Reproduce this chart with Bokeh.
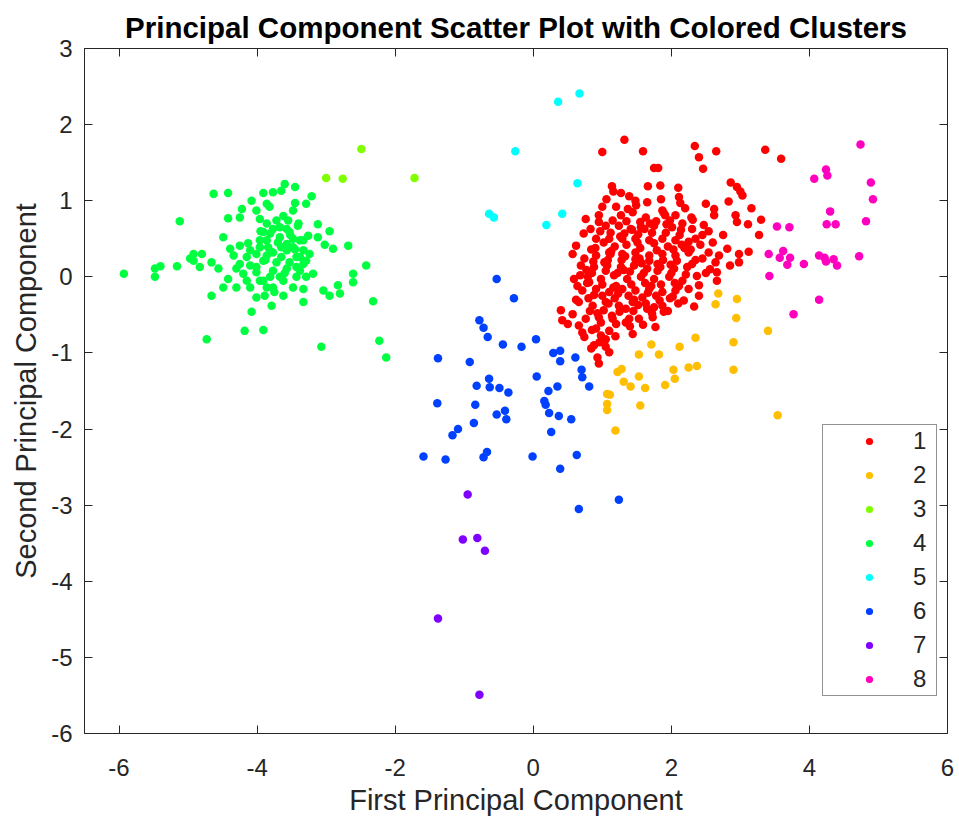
from bokeh.plotting import figure
from bokeh.models import FixedTicker, LinearAxis, Range1d
from bokeh.embed import file_html
from bokeh.resources import INLINE

# ---------------- data ----------------
cluster_names = ["1", "2", "3", "4", "5", "6", "7", "8"]
cluster_colors = ["#FF0000", "#FFBF00", "#80FF00", "#00FF40",
                  "#00FFFF", "#0040FF", "#8000FF", "#FF00BF"]

c1_x = [1.32, 1.00, 1.59, 2.34, 2.40, 2.65, 2.46, 3.36, 3.59, 1.75, 1.81, 1.14, 1.16, 1.66, 1.84, 2.10, 1.39, 1.48,
        2.11, 2.13, 2.86, 2.95, 3.03, 2.83, 2.50, 2.62, 3.16, 3.30, 2.93, 2.95, 3.11, 3.27, 2.62, 2.47, 2.54, 2.29,
        1.00, 0.95, 0.76, 1.20, 1.27, 1.44, 1.63, 1.87, 1.91, 2.06, 2.16, 0.83, 1.05, 1.24, 1.41, 1.56, 1.75, 2.01,
        2.30, 0.91, 1.10, 1.29, 1.48, 1.68, 1.87, 2.06, 2.25, 2.35, 2.81, 3.12, 2.98, 0.57, 0.74, 0.91, 1.10, 1.29,
        1.48, 1.68, 1.87, 2.06, 2.25, 2.54, 2.69, 2.45, 2.64, 2.98, 0.69, 0.88, 1.07, 1.27, 1.46, 1.65, 1.84, 2.04,
        2.23, 2.30, 2.66, 2.37, 2.66, 0.79, 0.98, 1.17, 1.36, 1.56, 1.75, 1.97, 2.16, 0.71, 0.91, 1.10, 1.29, 1.48,
        1.68, 1.87, 2.06, 2.25, 2.40, 2.18, 2.33, 0.66, 0.86, 1.05, 1.24, 1.44, 1.63, 1.87, 1.89, 0.40, 0.57, 0.42,
        0.76, 0.95, 1.15, 1.34, 1.53, 1.73, 0.66, 0.91, 1.10, 1.44, 0.74, 0.98, 0.88, 1.05, 1.10, 0.95, 0.93, 3.00,
        0.50, 0.84, 0.62,
        1.02, 1.18, 1.35, 1.55, 1.75, 1.95, 2.15, 0.85, 1.05, 1.22, 1.40, 1.60, 1.80, 2.00, 0.78, 1.00, 1.20, 1.42,
        1.62, 1.85, 2.05, 0.80, 1.00, 1.18, 1.38, 1.58, 1.78, 1.98, 0.82, 1.02, 1.25, 1.45, 1.65, 0.90, 1.12, 1.32,
        1.52, 1.72, 1.92, 2.12, 0.95, 1.15, 1.35, 1.55, 1.78, 1.98, 1.08, 1.28, 1.48, 1.68, 1.88, 2.08, 2.35, 0.98,
        1.20, 1.40, 0.85, 1.05, 2.20, 1.65, 1.85, 2.45, 2.60, 2.75, 2.85, 2.50, 2.40, 2.10, 1.75, 1.95,
        0.62, 0.73, 0.84, 0.97, 1.13, 1.26, 1.37, 1.51, 1.61, 1.79, 1.93, 2.19, 0.68, 0.81, 1.03, 1.16, 1.31, 1.57,
        1.71, 1.99, 2.21, 0.88, 1.09, 1.23, 1.46, 1.66, 1.83, 2.11, 0.64, 0.77, 0.93, 1.14, 1.34, 1.52, 1.72, 2.02,
        0.71, 0.96, 1.19, 1.39, 1.59, 1.77, 2.28, 2.42, 2.56, 1.06, 1.27, 1.49, 0.59, 1.43, 1.69, 1.89, 2.14, 2.31,
        0.87, 1.12, 1.33, 1.54, 1.80, 2.03]
c1_y = [1.80, 1.64, 1.65, 1.72, 1.57, 1.65, 1.42, 1.67, 1.55, 1.43, 1.43, 1.19, 1.12, 1.19, 1.20, 1.17, 1.06, 1.00,
        1.05, 0.97, 1.24, 1.18, 1.07, 0.99, 0.96, 0.89, 0.90, 0.75, 0.81, 0.72, 0.69, 0.55, 0.81, 0.68, 0.60, 0.78,
        0.92, 0.81, 0.76, 0.92, 0.81, 0.85, 0.78, 0.87, 0.81, 0.81, 0.70, 0.63, 0.67, 0.67, 0.63, 0.65, 0.67, 0.65,
        0.63, 0.50, 0.50, 0.50, 0.50, 0.48, 0.50, 0.48, 0.46, 0.50, 0.37, 0.33, 0.30, 0.30, 0.24, 0.28, 0.32, 0.30,
        0.32, 0.28, 0.30, 0.28, 0.32, 0.32, 0.28, 0.24, 0.19, 0.19, 0.15, 0.13, 0.15, 0.13, 0.15, 0.11, 0.13, 0.11,
        0.13, 0.17, 0.06, 0.01, -0.05, 0.00, -0.03, 0.02, -0.03, 0.00, -0.03, 0.00, -0.05, -0.18, -0.16, -0.20, -0.16, -0.18,
        -0.16, -0.20, -0.18, -0.16, -0.11, -0.31, -0.39, -0.33, -0.38, -0.33, -0.38, -0.33, -0.35, -0.38, -0.46, -0.44, -0.49, -0.57,
        -0.55, -0.53, -0.55, -0.60, -0.55, -0.53, -0.64, -0.68, -0.71, -0.75, -0.79, -0.77, -0.90, -0.92, -0.99, -1.14, -1.06, 1.12,
        -0.62, -0.94, -0.30,
        0.45, 0.40, 0.42, 0.38, 0.44, 0.40, 0.42, 0.05, 0.08, 0.05, 0.07, 0.05, 0.08, 0.05, -0.08, -0.10, -0.12, -0.10,
        -0.08, -0.10, -0.08, -0.28, -0.25, -0.28, -0.25, -0.27, -0.25, -0.28, -0.45, -0.44, -0.46, -0.45, -0.42, 0.38, 0.58, 0.57,
        0.56, 0.58, 0.58, 0.55, 0.72, 0.74, 0.73, 0.72, 0.73, 0.74, 0.22, 0.22, 0.23, 0.21, 0.22, 0.21, 0.22, -0.60,
        -0.62, -0.65, -0.70, -0.82, 0.90, 0.98, 1.02, 0.55, 0.45, 0.55, 0.15, 0.05, -0.25, -0.35, -0.40, -0.45,
        0.41, 0.57, 0.36, 0.60, 0.34, 0.53, 0.89, 0.45, 0.63, 0.35, 0.69, 0.38, 0.02, -0.07, 0.19, -0.14, 0.09, 0.18,
        -0.12, 0.16, 0.03, -0.24, -0.35, -0.22, -0.30, -0.21, -0.31, -0.12, -0.12, 0.09, -0.48, -0.51, -0.42, -0.37, -0.48, -0.26,
        -0.73, -0.86, -0.78, -0.55, -0.63, -0.66, 0.36, 0.42, 0.10, 1.02, 1.10, 0.94, -0.03, 0.62, 0.70, 0.84, 0.62, 0.75,
        0.20, 0.30, 0.27, 0.24, 0.17, 0.36]

c2_x = [2.68, 2.64, 2.95, 2.94, 3.40, 2.35, 2.90, 1.71, 2.12, 1.53, 1.82, 2.37, 2.25, 2.90, 2.03, 2.05, 1.28, 1.22,
        1.53, 1.31, 1.41, 1.62, 1.91, 1.07, 1.11, 1.07, 1.07, 1.55, 3.54, 1.19]
c2_y = [-0.22, -0.36, -0.29, -0.54, -0.71, -0.80, -0.86, -0.89, -0.92, -1.02, -1.02, -1.17, -1.19, -1.22, -1.22, -1.34,
        -1.21, -1.25, -1.31, -1.38, -1.44, -1.46, -1.42, -1.54, -1.55, -1.67, -1.75, -1.69, -1.82, -2.02]

c3_x = [-2.49, -3.00, -2.76, -1.72]
c3_y = [1.68, 1.30, 1.29, 1.30]

c4_x = [-3.60, -3.45, -4.63, -4.42, -3.91, -3.77, -3.65, -3.21, -4.08, -3.86, -3.45, -3.29, -4.22, -4.01, -3.82, -3.48,
        -4.25, -4.42, -3.96, -3.72, -3.55, -5.12, -3.12, -3.41, -3.77, -3.57, -3.91, -2.95, -3.26, -3.12, -4.49, -3.67,
        -3.48, -3.38, -3.86, -4.13, -4.25, -4.39, -3.02, -2.68, -2.90, -4.92, -4.80, -4.97, -4.34, -4.01, -3.77, -3.57,
        -3.33, -3.24, -4.92, -4.66, -4.56, -4.83, -5.40, -5.48, -5.16, -5.48, -5.93, -4.25, -4.10, -3.91, -3.72, -3.53,
        -3.33, -2.42, -4.30, -4.01, -3.77, -3.57, -3.38, -3.19, -2.61, -2.61, -4.42, -4.15, -3.91, -3.67, -3.43, -3.29,
        -4.30, -4.49, -4.10, -3.77, -3.48, -3.33, -3.04, -2.83, -2.80, -2.95, -4.66, -4.01, -3.89, -3.62, -3.79, -3.33,
        -2.32, -4.08, -4.18, -3.91, -4.73, -3.07, -2.23, -2.13,
        -3.86, -3.67, -3.84, -3.65, -3.48, -3.96, -3.86, -3.65, -3.43, -4.01, -3.81, -3.62, -3.43, -4.15, -3.96, -3.57,
        -3.33, -3.81, -3.53, -4.10, -3.38, -3.29, -4.20, -3.86, -3.96,
        -3.70, -3.52, -3.88, -3.60, -3.45, -3.75, -3.95, -3.62, -3.40, -3.80]
c4_y = [1.22, 1.18, 1.09, 1.10, 1.10, 1.11, 1.13, 1.06, 1.00, 0.96, 0.97, 0.96, 0.89, 0.87, 0.92, 0.87,
        0.78, 0.77, 0.76, 0.74, 0.74, 0.73, 0.69, 0.67, 0.63, 0.63, 0.59, 0.60, 0.54, 0.52, 0.52, 0.52,
        0.50, 0.48, 0.48, 0.44, 0.41, 0.37, 0.42, 0.41, 0.37, 0.30, 0.30, 0.24, 0.28, 0.30, 0.32, 0.35,
        0.35, 0.30, 0.21, 0.19, 0.11, 0.13, 0.14, 0.11, 0.14, 0.00, 0.04, 0.17, 0.15, 0.21, 0.19, 0.19,
        0.17, 0.15, 0.11, 0.06, 0.08, 0.11, 0.08, 0.04, 0.04, -0.07, -0.03, -0.05, -0.05, 0.00, 0.00, 0.00,
        -0.14, -0.14, -0.14, -0.14, -0.14, -0.16, -0.18, -0.11, -0.22, -0.25, -0.25, -0.27, -0.25, -0.25, -0.38, -0.33,
        -0.32, -0.46, -0.71, -0.70, -0.82, -0.92, -0.84, -1.06,
        0.70, 0.65, 0.39, 0.39, 0.39, 0.39, 0.28, 0.26, 0.26, 0.13, 0.00, -0.05, 0.13, 0.26, 0.48, 0.43,
        0.48, 0.57, 0.59, 0.35, 0.26, 0.21, 0.04, -0.14, -0.05,
        0.45, 0.55, 0.22, 0.05, 0.36, -0.20, 0.60, 0.80, 0.70, 0.33]

c5_x = [0.67, 0.36, -0.26, 0.64, -0.64, -0.57, 0.42, 0.19]
c5_y = [2.41, 2.30, 1.65, 1.23, 0.83, 0.78, 0.83, 0.68]

c6_x = [-0.53, -0.28, -0.78, -0.72, -0.66, -0.44, -0.17, 0.04, 0.29, 0.39, 0.39, 0.61, 0.70, 0.71, 0.81, -1.38,
        -0.92, -0.64, -0.82, -0.63, -0.49, -0.36, 0.05, 0.22, 0.35, 0.16, 0.18, -1.39, -0.84, -0.53, -0.41, -0.39,
        0.23, 0.37, 0.55, -0.86, -1.09, -1.17, 0.26, -1.59, -1.27, -0.72, -0.67, -0.01, 0.63, 0.39, 0.66, 1.24]
c6_y = [-0.03, -0.28, -0.57, -0.67, -0.79, -0.89, -0.92, -0.82, -1.00, -0.97, -1.11, -1.06, -1.22, -1.32, -1.44, -1.07,
        -1.12, -1.34, -1.43, -1.45, -1.46, -1.52, -1.31, -1.50, -1.44, -1.63, -1.68, -1.66, -1.68, -1.81, -1.76, -1.87,
        -1.79, -1.83, -1.87, -1.92, -2.00, -2.08, -2.04, -2.36, -2.40, -2.37, -2.30, -2.36, -2.34, -2.52, -3.05, -2.93]

c7_x = [-0.95, -1.02, -0.81, -0.70, -1.38, -0.78]
c7_y = [-2.86, -3.45, -3.43, -3.60, -4.49, -5.49]

c8_x = [4.74, 4.24, 4.26, 4.07, 4.89, 4.92, 4.30, 4.25, 4.38, 4.82, 3.53, 3.71, 3.41, 3.62, 3.57, 3.72, 3.68, 3.92,
        4.14, 4.22, 4.24, 4.35, 4.40, 4.72, 3.42, 4.14, 3.77]
c8_y = [1.74, 1.41, 1.33, 1.29, 1.24, 1.02, 0.86, 0.69, 0.69, 0.73, 0.66, 0.65, 0.30, 0.34, 0.25, 0.25, 0.16, 0.17,
        0.28, 0.25, 0.20, 0.23, 0.15, 0.27, 0.01, -0.30, -0.49]

x_ticks = [-6, -4, -2, 0, 2, 4, 6]
y_ticks = [-6, -5, -4, -3, -2, -1, 0, 1, 2, 3]
x_range = (-6.5, 6)
y_range = (-6, 3)

title_text = "Principal Component Scatter Plot with Colored Clusters"
x_label = "First Principal Component"
y_label = "Second Principal Component"

# ---------------- figure ----------------
FONT = "Liberation Sans"
AX_COLOR = "#262626"

p = figure(width=959, height=819, output_backend="svg", toolbar_location=None,
           x_range=Range1d(*x_range), y_range=Range1d(*y_range),
           min_border_left=84, min_border_right=12, min_border_top=48, min_border_bottom=86,
           title=title_text)
p.background_fill_color = "white"
p.border_fill_color = "white"
p.outline_line_color = AX_COLOR
p.outline_line_width = 1
p.grid.visible = False

p.title.text_font = FONT
p.title.text_font_size = "29.5px"
p.title.text_font_style = "bold"
p.title.text_color = "#000000"
p.title.align = "center"
p.title.standoff = 10

xs = [c1_x, c2_x, c3_x, c4_x, c5_x, c6_x, c7_x, c8_x]
ys = [c1_y, c2_y, c3_y, c4_y, c5_y, c6_y, c7_y, c8_y]
for name, color, cx, cy in zip(cluster_names, cluster_colors, xs, ys):
    p.scatter(cx, cy, marker="circle", size=8.5, fill_color=color, line_color=color,
              line_width=0, legend_label=name)


def style_axis(ax, ticks, show_labels, label=None):
    ax.ticker = FixedTicker(ticks=ticks)
    ax.minor_tick_line_color = None
    ax.major_tick_in = 8
    ax.major_tick_out = 0
    ax.major_tick_line_color = AX_COLOR
    ax.major_tick_line_width = 1
    ax.axis_line_color = AX_COLOR
    ax.axis_line_width = 1
    if show_labels:
        ax.major_label_overrides = {t: str(t) for t in ticks}
        ax.major_label_text_font = FONT
        ax.major_label_text_font_size = "24px"
        ax.major_label_text_color = AX_COLOR
    else:
        ax.major_label_text_font_size = "1px"
        ax.major_label_text_color = None
        ax.major_label_standoff = 0
    if label is not None:
        ax.axis_label = label
        ax.axis_label_text_font = FONT
        ax.axis_label_text_font_size = "29px"
        ax.axis_label_text_font_style = "normal"
        ax.axis_label_text_color = AX_COLOR


xa = p.xaxis[0]
ya = p.yaxis[0]
style_axis(xa, x_ticks, True, x_label)
style_axis(ya, y_ticks, True, y_label)
xa.major_label_standoff = 25
xa.axis_label_standoff = 5
ya.major_label_standoff = 12
ya.axis_label_standoff = 6

top_ax = LinearAxis()
style_axis(top_ax, x_ticks, False)
p.add_layout(top_ax, "above")
right_ax = LinearAxis()
style_axis(right_ax, y_ticks, False)
p.add_layout(right_ax, "right")

lg = p.legend[0]
lg.location = (738, 37)
lg.border_line_color = AX_COLOR
lg.border_line_width = 1
lg.background_fill_color = "white"
lg.background_fill_alpha = 1
lg.label_text_font = FONT
lg.label_text_font_size = "24px"
lg.label_text_color = AX_COLOR
lg.glyph_width = 88
lg.glyph_height = 18
lg.label_standoff = 0
lg.label_width = 21
lg.label_height = 20
lg.spacing = 6
lg.padding = 2
lg.margin = 0

open("out.html", "w").write(file_html(p, INLINE))
